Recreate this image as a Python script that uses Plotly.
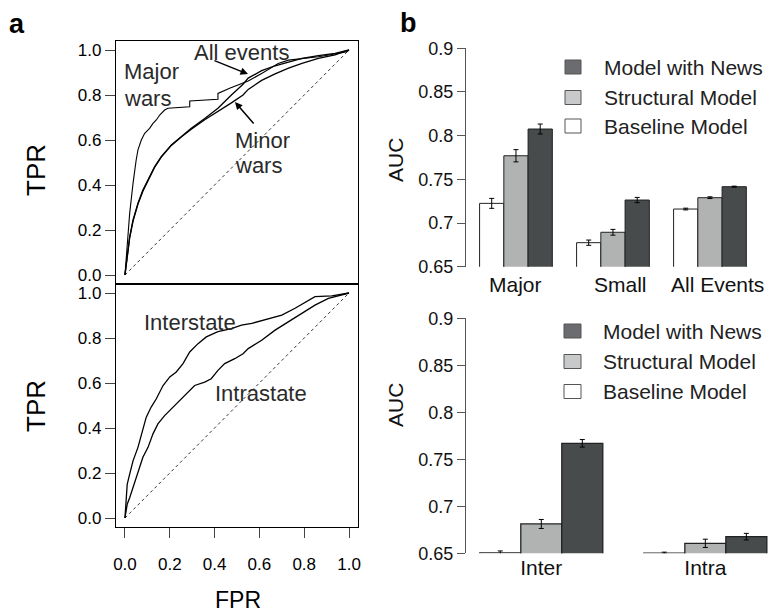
import plotly.graph_objects as go

# ---------------- data ----------------
# Panel a (top): ROC curves
major_fpr = [0, 0.006, 0.013, 0.021, 0.028, 0.036, 0.05, 0.058, 0.073, 0.088, 0.11, 0.125, 0.14, 0.155, 0.177, 0.192, 0.289, 0.289, 0.415, 0.415, 0.467, 0.52, 0.55, 0.61, 0.684, 0.73, 0.80, 0.863, 0.9375, 0.99, 1.0]
major_tpr = [0, 0.096, 0.17, 0.274, 0.348, 0.407, 0.511, 0.556, 0.60, 0.63, 0.652, 0.674, 0.689, 0.711, 0.733, 0.741, 0.748, 0.773, 0.781, 0.807, 0.83, 0.852, 0.862, 0.896, 0.94, 0.955, 0.963, 0.97, 0.982, 0.992, 1.0]

all_fpr = [0, 0.01, 0.021, 0.036, 0.058, 0.08, 0.103, 0.132, 0.162, 0.207, 0.251, 0.296, 0.356, 0.415, 0.475, 0.527, 0.55, 0.61, 0.67, 0.73, 0.79, 0.863, 0.9375, 1.0]
all_tpr = [0, 0.096, 0.17, 0.244, 0.319, 0.378, 0.422, 0.481, 0.526, 0.578, 0.615, 0.652, 0.696, 0.741, 0.80, 0.848, 0.875, 0.908, 0.93, 0.948, 0.963, 0.975, 0.985, 1.0]

minor_fpr = [0, 0.01, 0.021, 0.036, 0.058, 0.08, 0.103, 0.132, 0.162, 0.207, 0.251, 0.296, 0.356, 0.415, 0.475, 0.527, 0.55, 0.61, 0.67, 0.73, 0.79, 0.863, 0.9375, 1.0]
minor_tpr = [0, 0.092, 0.165, 0.24, 0.315, 0.372, 0.418, 0.478, 0.524, 0.576, 0.613, 0.648, 0.69, 0.726, 0.765, 0.80, 0.825, 0.865, 0.894, 0.919, 0.941, 0.963, 0.978, 1.0]

# Panel a (bottom): ROC curves
inter_fpr = [0, 0.01, 0.021, 0.036, 0.058, 0.08, 0.095, 0.117, 0.14, 0.17, 0.2, 0.229, 0.259, 0.289, 0.326, 0.363, 0.415, 0.475, 0.52, 0.566, 0.64, 0.70, 0.759, 0.818, 0.848, 0.923, 1.0]
inter_tpr = [0, 0.15, 0.195, 0.254, 0.314, 0.388, 0.448, 0.493, 0.53, 0.589, 0.627, 0.649, 0.686, 0.738, 0.775, 0.805, 0.828, 0.842, 0.857, 0.865, 0.887, 0.902, 0.932, 0.969, 0.984, 0.987, 1.0]

intra_fpr = [0, 0.01, 0.021, 0.036, 0.058, 0.08, 0.103, 0.125, 0.147, 0.177, 0.207, 0.237, 0.266, 0.311, 0.356, 0.385, 0.415, 0.445, 0.49, 0.527, 0.55, 0.61, 0.67, 0.73, 0.79, 0.848, 0.908, 1.0]
intra_tpr = [0, 0.061, 0.09, 0.136, 0.21, 0.27, 0.314, 0.374, 0.418, 0.455, 0.485, 0.515, 0.545, 0.589, 0.604, 0.619, 0.656, 0.686, 0.708, 0.73, 0.753, 0.79, 0.835, 0.872, 0.909, 0.946, 0.976, 1.0]

diag = [0, 1]
roc_ticks = [0, 0.2, 0.4, 0.6, 0.8, 1.0]

# Panel b: AUC bars
models = ["Baseline Model", "Structural Model", "Model with News"]
top_groups = ["Major", "Small", "All Events"]
top_auc = {
    "Baseline Model": [0.7225, 0.6775, 0.716],
    "Structural Model": [0.777, 0.6894, 0.729],
    "Model with News": [0.8076, 0.7263, 0.7416],
}
top_err = {
    "Baseline Model": [0.0057, 0.003, 0.001],
    "Structural Model": [0.007, 0.0033, 0.001],
    "Model with News": [0.0057, 0.003, 0.0006],
}
bot_groups = ["Inter", "Intra"]
bot_auc = {
    "Baseline Model": [0.6505, 0.6502],
    "Structural Model": [0.6812, 0.6606],
    "Model with News": [0.767, 0.6677],
}
bot_err = {
    "Baseline Model": [0.002, 0.001],
    "Structural Model": [0.0048, 0.0044],
    "Model with News": [0.004, 0.0035],
}
auc_ticks = [0.65, 0.7, 0.75, 0.8, 0.85, 0.9]
auc_ticktext = ["0.65", "0.7", "0.75", "0.8", "0.85", "0.9"]

bar_colors = {"Baseline Model": "#ffffff", "Structural Model": "#b1b3b3", "Model with News": "#474b4c"}
legend_colors = {"Baseline Model": "#ffffff", "Structural Model": "#c8c9cb", "Model with News": "#6b6c6f"}

# ---------------- layout helpers ----------------
W, H = 778, 613
OFF = 8  # page body margin of the browser
FONT = "Liberation Sans, Arial, Helvetica, sans-serif"


def px(x):
    return (x - OFF) / W


def py(y):
    return 1 - (y - OFF) / H


fig = go.Figure()

line = dict(color="black", width=1.3)
dot = dict(color="black", width=0.8, dash="dot")

# top ROC
fig.add_trace(go.Scatter(x=diag, y=diag, mode="lines", line=dot, xaxis="x", yaxis="y", showlegend=False))
fig.add_trace(go.Scatter(x=minor_fpr, y=minor_tpr, mode="lines", line=line, xaxis="x", yaxis="y", showlegend=False))
fig.add_trace(go.Scatter(x=all_fpr, y=all_tpr, mode="lines", line=line, xaxis="x", yaxis="y", showlegend=False))
fig.add_trace(go.Scatter(x=major_fpr, y=major_tpr, mode="lines", line=dict(color="black", width=1.1),
                         xaxis="x", yaxis="y", showlegend=False))
# bottom ROC
fig.add_trace(go.Scatter(x=diag, y=diag, mode="lines", line=dot, xaxis="x2", yaxis="y2", showlegend=False))
fig.add_trace(go.Scatter(x=inter_fpr, y=inter_tpr, mode="lines", line=line, xaxis="x2", yaxis="y2", showlegend=False))
fig.add_trace(go.Scatter(x=intra_fpr, y=intra_tpr, mode="lines", line=line, xaxis="x2", yaxis="y2", showlegend=False))

# bars
for m in models:
    fig.add_trace(go.Bar(x=top_groups, y=top_auc[m], name=m, xaxis="x3", yaxis="y3", showlegend=False,
                         marker=dict(color=bar_colors[m], line=dict(color="#222222", width=1)),
                         error_y=dict(type="data", array=top_err[m], visible=True, color="black",
                                      thickness=1, width=2.5)))
for m in models:
    fig.add_trace(go.Bar(x=bot_groups, y=bot_auc[m], name=m, xaxis="x4", yaxis="y4", showlegend=False,
                         marker=dict(color=bar_colors[m], line=dict(color="#222222", width=1.3)),
                         error_y=dict(type="data", array=bot_err[m], visible=True, color="black",
                                      thickness=1, width=2.5)))

tickfont = dict(family=FONT, size=17, color="black")
roc_x_dom = [px(116), px(358)]
common_box = dict(showline=True, linecolor="black", linewidth=1.3, mirror=True, automargin=False,
                  showgrid=False, zeroline=False, range=[-0.04, 1.04])

fig.update_layout(
    width=W, height=H,
    margin=dict(l=0, r=0, t=0, b=0, autoexpand=False),
    paper_bgcolor="white", plot_bgcolor="white",
    font=dict(family=FONT, color="black"),
    barmode="group",
    bargap=0.25, bargroupgap=0,
    xaxis=dict(domain=roc_x_dom, anchor="y", showticklabels=False, ticks="", **common_box),
    yaxis=dict(domain=[py(284), py(41)], anchor="x", tickvals=roc_ticks, tickformat=".1f",
               ticks="outside", ticklen=10, tickcolor="#444", tickfont=tickfont, **common_box),
    xaxis2=dict(domain=roc_x_dom, anchor="y2", tickvals=roc_ticks, tickformat=".1f",
                ticks="outside", ticklen=10, tickcolor="#444", tickfont=tickfont,
                ticklabelstandoff=11, **common_box),
    yaxis2=dict(domain=[py(527), py(284)], anchor="x2", tickvals=roc_ticks, tickformat=".1f",
                ticks="outside", ticklen=10, tickcolor="#444", tickfont=tickfont, **common_box),
    xaxis3=dict(domain=[px(466), px(757)], anchor="y3", range=[-0.515, 2.485], showline=False,
                showgrid=False, zeroline=False, ticks="", automargin=False, showticklabels=False),
    yaxis3=dict(domain=[py(266.7), py(48.3)], anchor="x3", range=[0.65, 0.9], tickvals=auc_ticks,
                ticktext=auc_ticktext, showline=True, linecolor="#555", linewidth=1, ticks="outside",
                ticklen=8, tickcolor="#555", showgrid=False, zeroline=False, automargin=False,
                tickfont=dict(family=FONT, size=18, color="#111")),
    xaxis4=dict(domain=[px(466), px(778)], anchor="y4", range=[-0.459, 1.443], showline=False,
                showgrid=False, zeroline=False, ticks="", automargin=False,
                tickfont=dict(family=FONT, size=21, color="#111")),
    yaxis4=dict(domain=[py(553.3), py(318.3)], anchor="x4", range=[0.65, 0.9], tickvals=auc_ticks,
                ticktext=auc_ticktext, showline=True, linecolor="#555", linewidth=1, ticks="outside",
                ticklen=8, tickcolor="#555", showgrid=False, zeroline=False, automargin=False,
                tickfont=dict(family=FONT, size=18, color="#111")),
)

ann = []
txt = "#2a2a2a"
# top bar-chart category labels (as in the reference, the last two sit a little right of the group centre)
for g, shift in zip(top_groups, [0, 8, 8]):
    ann.append(dict(text=g, x=g, xref="x3", y=py(284), yref="paper", xshift=shift, xanchor="center",
                    yanchor="middle", showarrow=False, font=dict(size=21, color="#111")))
# ROC labels
ann.append(dict(text="Major", x=-0.013, y=0.905, xref="x", yref="y", xanchor="left", yanchor="middle",
                showarrow=False, font=dict(size=22, color=txt)))
ann.append(dict(text="wars", x=-0.013, y=0.785, xref="x", yref="y", xanchor="left", yanchor="middle",
                showarrow=False, font=dict(size=22, color=txt)))
ann.append(dict(text="All events", x=0.518, y=0.99, xref="x", yref="y", xanchor="center", yanchor="middle",
                showarrow=False, font=dict(size=22, color=txt)))
ann.append(dict(text="Minor", x=0.482, y=0.60, xref="x", yref="y", xanchor="left", yanchor="middle",
                showarrow=False, font=dict(size=22, color=txt)))
ann.append(dict(text="wars", x=0.482, y=0.485, xref="x", yref="y", xanchor="left", yanchor="middle",
                showarrow=False, font=dict(size=22, color=txt)))
ann.append(dict(text="", x=0.549, y=0.893, xref="x", yref="y", ax=-35, ay=-14, showarrow=True,
                arrowhead=2, arrowsize=1, arrowwidth=1.5, arrowcolor="black", standoff=0))
ann.append(dict(text="", x=0.491, y=0.769, xref="x", yref="y", ax=20, ay=23, showarrow=True,
                arrowhead=2, arrowsize=1, arrowwidth=1.5, arrowcolor="black", standoff=0))
ann.append(dict(text="Interstate", x=0.292, y=0.868, xref="x2", yref="y2", xanchor="center", yanchor="middle",
                showarrow=False, font=dict(size=22, color=txt)))
ann.append(dict(text="Intrastate", x=0.609, y=0.555, xref="x2", yref="y2", xanchor="center", yanchor="middle",
                showarrow=False, font=dict(size=22, color=txt)))

# axis titles
for yy in (170, 406):
    ann.append(dict(text="TPR", x=px(36), y=py(yy), xref="paper", yref="paper", textangle=-90,
                    xanchor="center", yanchor="middle", showarrow=False, font=dict(size=26, color="black")))
ann.append(dict(text="FPR", x=px(237.5), y=py(600), xref="paper", yref="paper", xanchor="center",
                yanchor="middle", showarrow=False, font=dict(size=23, color="black")))
for yy in (160, 405):
    ann.append(dict(text="AUC", x=px(396), y=py(yy), xref="paper", yref="paper", textangle=-90,
                    xanchor="center", yanchor="middle", showarrow=False, font=dict(size=21, color="#111")))
# panel letters
ann.append(dict(text="<b>a</b>", x=px(17), y=py(24), xref="paper", yref="paper", xanchor="center",
                yanchor="middle", showarrow=False, font=dict(size=27, color="black")))
ann.append(dict(text="<b>b</b>", x=px(408), y=py(23), xref="paper", yref="paper", xanchor="center",
                yanchor="middle", showarrow=False, font=dict(size=27, color="black")))

# legends (custom)
shapes = []
leg_order = ["Model with News", "Structural Model", "Baseline Model"]
for rows, sx0, sx1, tx in (([67, 97.5, 126], 565, 581, 602), ([331, 361.5, 391.5], 564, 581, 601)):
    for m, yc in zip(leg_order, rows):
        shapes.append(dict(type="rect", xref="paper", yref="paper", x0=px(sx0), x1=px(sx1),
                           y0=py(yc + 7), y1=py(yc - 7), fillcolor=legend_colors[m],
                           line=dict(color="#555555", width=1)))
        ann.append(dict(text=m, x=px(tx), y=py(yc), xref="paper", yref="paper", xanchor="left",
                        yanchor="middle", showarrow=False, font=dict(size=21, color="#222")))

fig.update_layout(annotations=ann, shapes=shapes)
fig.write_html("out.html")
